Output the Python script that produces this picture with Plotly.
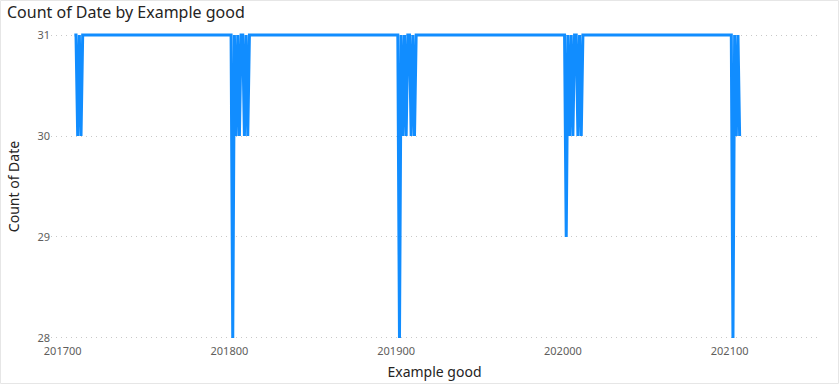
import plotly.graph_objects as go

periods = [201707, 201708, 201709, 201710, 201711, 201712,
           201801, 201802, 201803, 201804, 201805, 201806, 201807, 201808, 201809, 201810, 201811, 201812,
           201901, 201902, 201903, 201904, 201905, 201906, 201907, 201908, 201909, 201910, 201911, 201912,
           202001, 202002, 202003, 202004, 202005, 202006, 202007, 202008, 202009, 202010, 202011, 202012,
           202101, 202102, 202103, 202104, 202105, 202106]
count_of_date = [31, 31, 30, 31, 30, 31,
                 31, 28, 31, 30, 31, 30, 31, 31, 30, 31, 30, 31,
                 31, 28, 31, 30, 31, 30, 31, 31, 30, 31, 30, 31,
                 31, 29, 31, 30, 31, 30, 31, 31, 30, 31, 30, 31,
                 31, 28, 31, 30, 31, 30]
x_ticks = [201700, 201800, 201900, 202000, 202100]
y_ticks = [28, 29, 30, 31]

W, H = 839, 384
ml, mr, mt, mb = 51, 21, 33, 44

fig = go.Figure(go.Scatter(
    x=periods, y=count_of_date, mode="lines",
    line=dict(color="#118DFF", width=3),
    hoverinfo="x+y",
))

fig.update_layout(
    width=W, height=H,
    margin=dict(l=ml, r=mr, t=mt, b=mb, autoexpand=False),
    paper_bgcolor="white", plot_bgcolor="white",
    font=dict(family="Noto Sans, Open Sans, sans-serif", color="#605E5C", size=11),
    title=dict(text="Count of Date by Example good", x=7 / W, xref="container", xanchor="left",
               y=1 - 12 / H, yref="container", yanchor="middle",
               font=dict(size=16, color="#252423")),
    showlegend=False,
    xaxis=dict(range=[201693, 202153], tickvals=x_ticks, ticktext=[str(v) for v in x_ticks],
               showgrid=False, zeroline=False, showline=False, ticks="", automargin=False,
               ticklabelstandoff=3,
               title=dict(text="Example good", font=dict(size=14, color="#252423"), standoff=10),
               tickfont=dict(size=11, color="#605E5C")),
    yaxis=dict(range=[27.98, 31.02], tickvals=y_ticks, ticktext=[str(v) for v in y_ticks],
               showgrid=True, gridcolor="#C8C8C8", griddash="1px,4px", gridwidth=1,
               zeroline=False, showline=False, ticks="", automargin=False,
               title=dict(text="Count of Date", font=dict(size=14, color="#252423"), standoff=14),
               tickfont=dict(size=11, color="#605E5C")),
)

pw = W - ml - mr
ph = H - mt - mb
fig.add_shape(type="rect", xref="paper", yref="paper",
              x0=-ml / pw + 0.5 / pw, x1=1 + (mr - 0.5) / pw,
              y0=-mb / ph + 0.5 / ph, y1=1 + (mt - 0.5) / ph,
              line=dict(color="#E6E6E6", width=1), layer="below")

fig.write_html("out.html", config={"displayModeBar": False},
               post_script="document.body.style.margin='0';document.body.style.overflow='hidden';")
